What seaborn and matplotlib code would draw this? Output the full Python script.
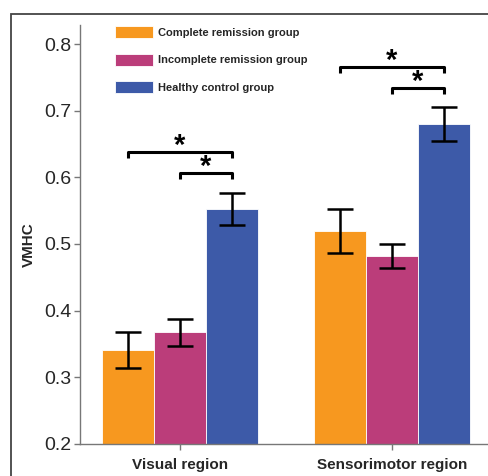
import matplotlib
matplotlib.use("Agg")
import matplotlib.pyplot as plt
import seaborn as sns
import pandas as pd
from matplotlib.patches import Rectangle

regions = ['Visual region', 'Sensorimotor region']
groups = ['Complete remission group', 'Incomplete remission group', 'Healthy control group']
complete = [0.340, 0.520]
complete_err = [0.027, 0.033]
incomplete = [0.367, 0.482]
incomplete_err = [0.020, 0.018]
healthy = [0.553, 0.680]
healthy_err = [0.024, 0.025]
colors = ['#F7981F', '#BB3D7A', '#3D5AA8']

# significance brackets: (region, group from, group to, height)
brackets = [(0, 0, 2, 0.638), (0, 1, 2, 0.607),
            (1, 0, 2, 0.766), (1, 1, 2, 0.734)]

sns.set_style("white")
plt.rcParams['font.family'] = ['Liberation Sans', 'DejaVu Sans']

values = [complete, incomplete, healthy]
errors = [complete_err, incomplete_err, healthy_err]
rows = []
for g, vals in zip(groups, values):
    for r, v in zip(regions, vals):
        rows.append({'region': r, 'group': g, 'VMHC': v})
df = pd.DataFrame(rows)

fig = plt.figure(figsize=(4.89, 4.76), dpi=100)
ax = fig.add_axes([80 / 489, 1 - 443.7 / 476, 412 / 489, (443.7 - 25) / 476])

sns.barplot(data=df, x='region', y='VMHC', hue='group', order=regions, hue_order=groups,
            palette=colors, width=0.735, errorbar=None, edgecolor='white', linewidth=0.6,
            saturation=1, legend=False, ax=ax)

bar_conts = list(ax.containers)

# error bars and bar centres
centres = []
for h, cont in enumerate(bar_conts):
    xs = [p.get_x() + p.get_width() / 2 for p in cont]
    centres.append(xs)
    ax.errorbar(xs, values[h], yerr=errors[h], fmt='none', ecolor='black',
                elinewidth=1.8, capsize=9.5, capthick=1.8, zorder=5)

for r, a, b, y in brackets:
    x1, x2 = centres[a][r], centres[b][r]
    ax.plot([x1, x1, x2, x2], [y - 0.009, y, y, y - 0.009], color='black', lw=2.2,
            solid_capstyle='butt', zorder=6)
    ax.text((x1 + x2) / 2, y - 0.012, '*', ha='center', va='bottom', fontsize=21,
            fontweight='bold', color='black')

ax.set_ylim(0.2, 0.8287)
ax.set_xlim(-0.472, 1.472)
ax.set_yticks([0.2, 0.3, 0.4, 0.5, 0.6, 0.7, 0.8])
ax.set_yticklabels(['0.2', '0.3', '0.4', '0.5', '0.6', '0.7', '0.8'], fontsize=14)
ax.set_xticks([0, 1])
ax.set_xticklabels(regions, fontsize=11, fontweight='bold')
ax.set_xlabel('')
ax.set_ylabel('VMHC', fontsize=11, fontweight='bold')
ax.yaxis.set_label_coords(-0.106, 0.4746)

sns.despine(ax=ax)
for s in ['left', 'bottom']:
    ax.spines[s].set_color('#777777')
    ax.spines[s].set_linewidth(1.0)
ax.tick_params(axis='both', which='major', direction='out', length=4, width=1,
               color='#777777', left=True, bottom=True, pad=2)
ax.tick_params(axis='x', pad=6)

ax.legend(handles=bar_conts, labels=groups, loc='upper left',
          bbox_to_anchor=(115 / 489, 1 - 26 / 476), bbox_transform=fig.transFigure,
          frameon=False, prop={'size': 8, 'weight': 'bold'}, handlelength=3.4,
          handleheight=1.3, labelspacing=1.4, handletextpad=0.5, borderpad=0,
          borderaxespad=0)

# outer frame of the panel
fig.patches.append(Rectangle((11 / 489, -0.2), 2, 1.2 - 14 / 476, transform=fig.transFigure,
                             fill=False, edgecolor='#444444', lw=1.3))

fig.savefig('out.png', dpi=100)
